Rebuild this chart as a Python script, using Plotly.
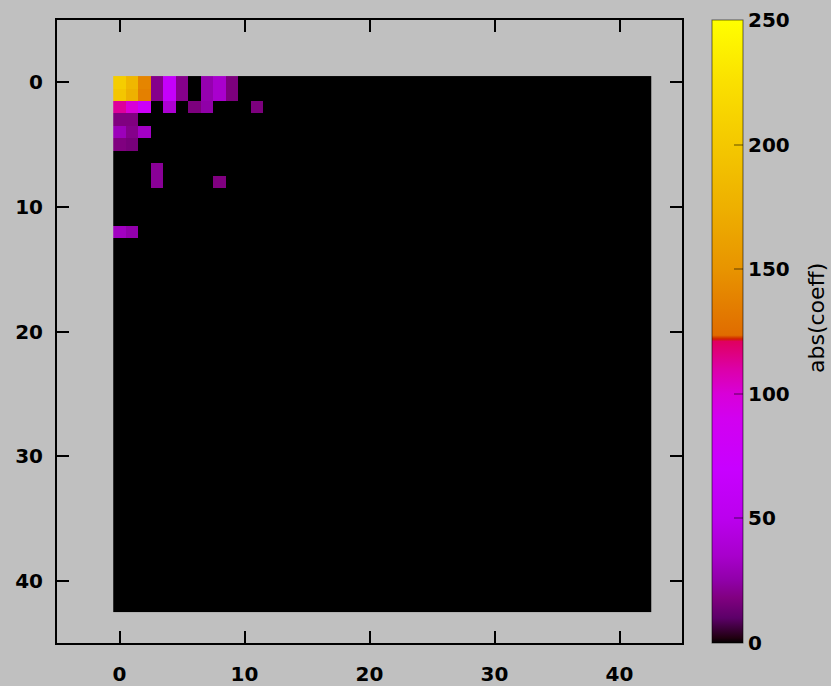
import numpy as np
import plotly.graph_objects as go

# ---- data -------------------------------------------------------------
N = 43  # 43 x 43 coefficient grid (indices 0..42)

coef_rows = [0, 0, 0, 0, 0, 0, 0, 0, 0,
             1, 1, 1, 1, 1, 1, 1, 1, 1,
             2, 2, 2, 2, 2, 2, 2,
             3, 3,
             4, 4, 4,
             5, 5,
             7,
             8, 8,
             12, 12]
coef_cols = [0, 1, 2, 3, 4, 5, 7, 8, 9,
             0, 1, 2, 3, 4, 5, 7, 8, 9,
             0, 1, 2, 4, 6, 7, 11,
             0, 1,
             0, 1, 2,
             0, 1,
             3,
             3, 8,
             0, 1]
coef_vals = [205, 182, 140, 20, 66, 20, 27, 36, 17,
             198, 176, 137, 20, 66, 20, 27, 36, 17,
             112, 100, 78, 38, 17, 25, 17,
             18, 18,
             30, 20, 33,
             18, 16,
             22,
             22, 18,
             32, 26]

axis_ticks = [0, 10, 20, 30, 40]
cbar_ticks = [0, 50, 100, 150, 200, 250]
z_min, z_max = 0, 250
cbar_title = "abs(coeff)"

z = np.zeros((N, N))
z[coef_rows, coef_cols] = coef_vals

colorscale = [
    [0.000, "#000000"],
    [0.008, "#200010"],
    [0.040, "#5c0068"],
    [0.072, "#800080"],
    [0.100, "#9000a8"],
    [0.140, "#a800cc"],
    [0.200, "#bb00ee"],
    [0.280, "#c800ff"],
    [0.360, "#d200f0"],
    [0.400, "#d800d8"],
    [0.440, "#dc00a8"],
    [0.484, "#e00060"],
    [0.488, "#d02000"],
    [0.494, "#e06c00"],
    [0.600, "#e89400"],
    [0.700, "#eeb000"],
    [0.800, "#f4c800"],
    [0.900, "#fae000"],
    [1.000, "#ffff00"],
]

TICKFONT = dict(family="DejaVu Sans", size=20, color="black", weight="bold")
TITLEFONT = dict(family="DejaVu Sans", size=22, color="black", weight="normal")
GRAY = "#c0c0c0"

fig = go.Figure(
    go.Heatmap(
        z=z,
        x=np.arange(N),
        y=np.arange(N),
        zmin=z_min,
        zmax=z_max,
        colorscale=colorscale,
        colorbar=dict(
            x=1.048, xanchor="left", xpad=0,
            y=0.5, yanchor="middle", ypad=0,
            len=1, lenmode="fraction",
            thickness=31,
            outlinewidth=1, outlinecolor="rgba(0,0,0,0.55)",
            tickvals=cbar_ticks,
            ticks="inside", ticklen=9, tickwidth=2,
            tickcolor="rgba(0,0,0,0.3)",
            tickprefix="\u2009",
            tickfont=TICKFONT,
        ),
    )
)

axis_common = dict(
    showgrid=False, zeroline=False,
    showline=True, linecolor="black", linewidth=2, mirror="ticks",
    ticks="inside", ticklen=12, tickwidth=2, tickcolor="black",
    tickvals=axis_ticks, tickfont=TICKFONT,
)

fig.update_xaxes(range=[-5, 45], ticklabelstandoff=12, tickprefix=" ",
                 **axis_common)
fig.update_yaxes(range=[45, -5], ticklabelstandoff=8, **axis_common)

# second half of the gnuplot-style dashed colorbar ticks (left side)
shapes = []
for v in cbar_ticks[1:-1]:
    yy = (v - z_min) / (z_max - z_min)
    shapes.append(dict(type="line", xref="paper", yref="paper",
                       x0=1.048, x1=1.048 + 9 / 625, y0=yy, y1=yy,
                       line=dict(color="rgba(0,0,0,0.3)", width=2)))

fig.update_layout(
    width=831, height=686,
    margin=dict(l=57, r=149, t=20, b=43, autoexpand=False),
    paper_bgcolor=GRAY,
    plot_bgcolor=GRAY,
    font=TICKFONT,
    shapes=shapes,
    annotations=[dict(text=cbar_title, textangle=-90, showarrow=False,
                      xref="paper", yref="paper", x=1.216, y=0.5217,
                      xanchor="center", yanchor="middle", font=TITLEFONT)],
)

fig.write_html("out.html")
